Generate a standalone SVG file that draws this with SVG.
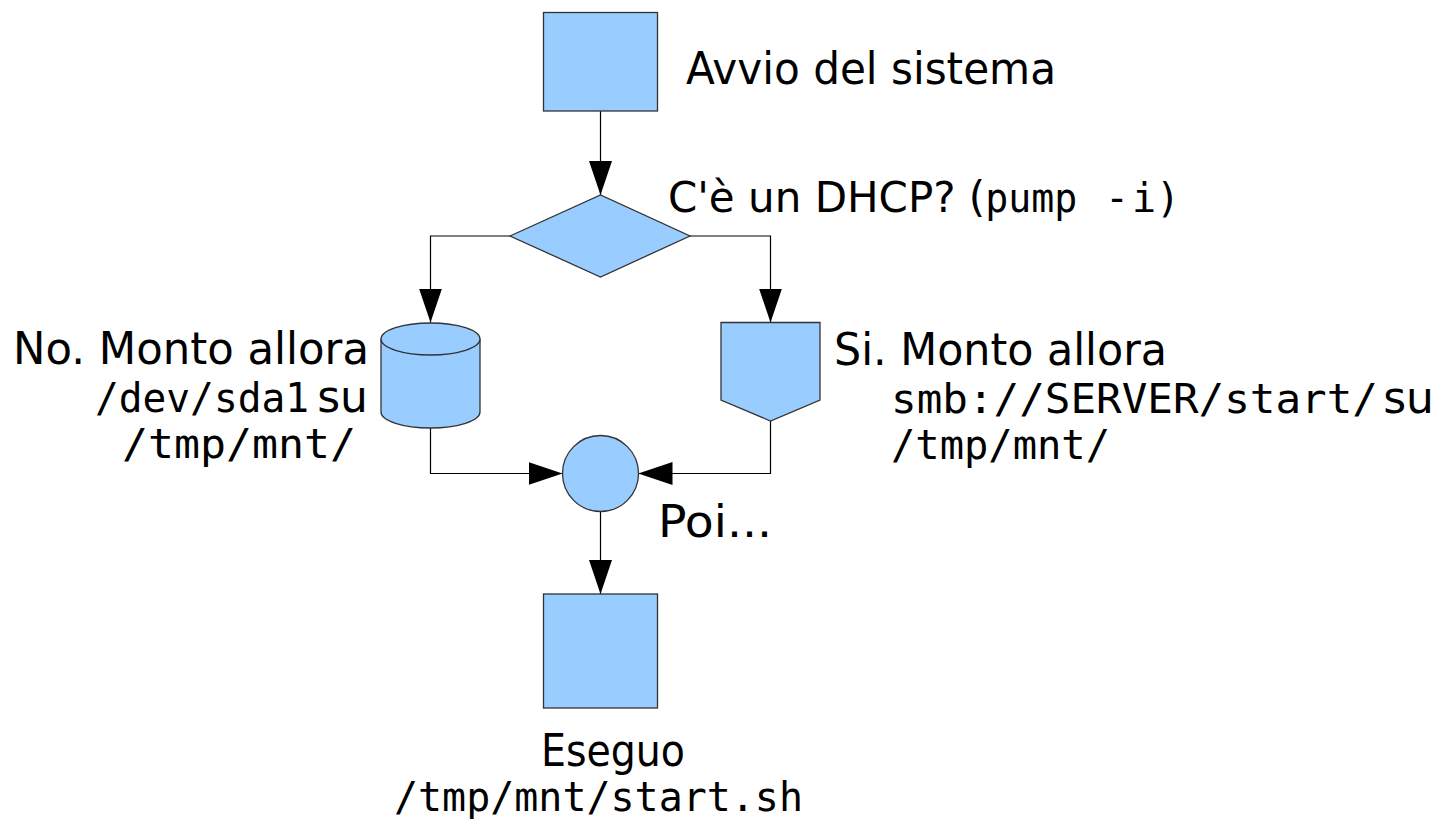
<svg xmlns="http://www.w3.org/2000/svg" width="1439" height="819" viewBox="0 0 1439 819">
<defs>
<style>
.shape{fill:#99ccff;stroke:#333333;stroke-width:1.3}
.conn{fill:none;stroke:#000000;stroke-width:1.2}
.p{font-family:"DejaVu Sans","Liberation Sans",sans-serif;font-size:44px;fill:#000}
.m{font-family:"DejaVu Sans Mono","Liberation Mono",monospace;font-size:40px;fill:#000}
</style>
<marker id="arr" markerUnits="userSpaceOnUse" markerWidth="34" markerHeight="24" refX="34" refY="11.5" orient="auto">
<path d="M0,0 L34,11.5 L0,23 Z" fill="#000"/>
</marker>
</defs>
<rect width="1439" height="819" fill="#ffffff"/>
<g id="connectors">
<path class="conn" d="M600.5,111 V195" marker-end="url(#arr)"/>
<path class="conn" d="M510,236 H430.5 V322.5" marker-end="url(#arr)"/>
<path class="conn" d="M690,236 H770.5 V322.5" marker-end="url(#arr)"/>
<path class="conn" d="M430.5,428 V473.5 H562.5" marker-end="url(#arr)"/>
<path class="conn" d="M770.5,421 V473.5 H638.5" marker-end="url(#arr)"/>
<path class="conn" d="M600.5,511 V594" marker-end="url(#arr)"/>
</g>
<g id="start">
<rect class="shape" x="543.5" y="12.5" width="114" height="98.5"/>
<text class="p" x="686" y="84" textLength="370" lengthAdjust="spacingAndGlyphs">Avvio del sistema</text>
</g>
<g id="decision">
<polygon class="shape" points="510,236 600.5,195 690,236 600.5,277"/>
<text class="p" x="668" y="212" style="font-size:42px">C'è un DHCP? (<tspan class="m" textLength="92" lengthAdjust="spacingAndGlyphs">pump</tspan><tspan class="m" x="1105">-</tspan><tspan class="m" x="1132">i</tspan><tspan class="m" x="1156">)</tspan></text>
</g>
<g id="local-mount">
<path class="shape" d="M381,339 A49.5,16 0 0 1 480,339 V412 A49.5,16 0 0 1 381,412 Z"/>
<path class="shape" d="M381,339 A49.5,16 0 0 0 480,339" fill="none"/>
<text class="p" x="369" y="364" text-anchor="end" textLength="356" lengthAdjust="spacingAndGlyphs">No. Monto allora</text>
<text class="m" x="95" y="412" textLength="214" lengthAdjust="spacingAndGlyphs">/dev/sda1</text>
<text class="p" x="368" y="412" text-anchor="end">su</text>
<text class="m" x="122" y="458" textLength="234" lengthAdjust="spacingAndGlyphs">/tmp/mnt/</text>
</g>
<g id="remote-mount">
<polygon class="shape" points="721,322.5 820,322.5 820,400 770.5,421 721,400"/>
<text class="p" x="834" y="365" textLength="333" lengthAdjust="spacingAndGlyphs">Si. Monto allora</text>
<text class="m" x="891" y="413" textLength="487" lengthAdjust="spacingAndGlyphs">smb://SERVER/start/</text>
<text class="p" x="1434" y="413" text-anchor="end">su</text>
<text class="m" x="891" y="459" textLength="219" lengthAdjust="spacingAndGlyphs">/tmp/mnt/</text>
</g>
<g id="join">
<circle class="shape" cx="600.5" cy="473.5" r="38"/>
<text class="p" x="658" y="537" textLength="114" lengthAdjust="spacingAndGlyphs">Poi...</text>
</g>
<g id="execute">
<rect class="shape" x="543.5" y="594" width="114" height="114"/>
<text class="p" x="541" y="766" textLength="144" lengthAdjust="spacingAndGlyphs">Eseguo</text>
<text class="m" x="394" y="811" textLength="409" lengthAdjust="spacingAndGlyphs">/tmp/mnt/start.sh</text>
</g>
</svg>
